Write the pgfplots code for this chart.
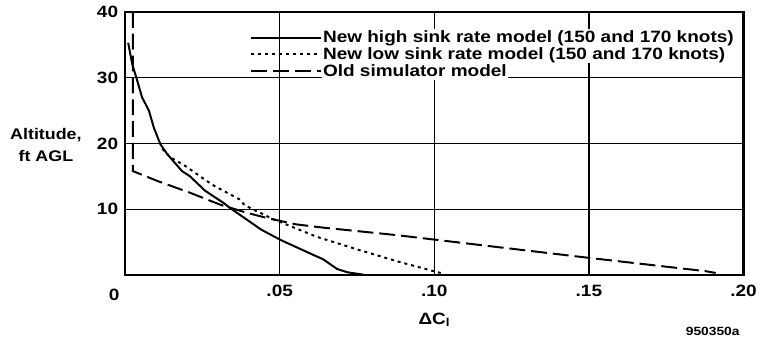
\documentclass[border=0pt]{standalone}
\usepackage{fontspec}
\setmainfont{Liberation Sans}[FakeStretch=1.16]
\usepackage{pgfplots}
\pgfplotsset{compat=1.18}
\begin{document}
\begin{tikzpicture}
\begin{axis}[name=ax, scale only axis, width=623pt, height=265pt,
  xmin=0, xmax=0.2, ymin=0, ymax=40,
  xtick={0.05,0.1,0.15,0.2}, xticklabels={.05,.10,.15,.20},
  ytick={10,20,30,40},
  grid=major, major grid style={black, line width=1.3pt},
  axis line style={line width=2.2pt},
  tick style={draw=none},
  font=\fontsize{16.5}{18}\selectfont\bfseries,
  /pgf/number format/assume math mode=true,
  xticklabel style={yshift=-7pt},
  yticklabel style={xshift=-3.5pt},
  xlabel={ΔC\textsubscript{l}},
  xlabel style={at={(axis description cs:0.5,-0.17)}, anchor=center},
  ylabel={Altitude,\\ft AGL},
  ylabel style={rotate=-90, align=center, at={(axis description cs:-0.128,0.494)}, anchor=center, font=\fontsize{15.5}{22}\selectfont\bfseries},
  legend cell align=left,
  legend style={at={(axis description cs:0.197,0.942)}, anchor=north west, draw=none, fill=none,
    row sep=0.6pt, nodes={fill=white, inner sep=1.5pt}},
  legend image code/.code={\draw[#1] (0pt,0pt) -- (70pt,0pt);},
]
\addplot[black, line width=2pt] coordinates {
(0.001,35.3) (0.0023,32.1) (0.0039,29.6) (0.0055,27.0) (0.0077,25.0) (0.0093,22.4)
(0.0114,19.9) (0.0136,18.4) (0.0184,15.8) (0.021,15.0) (0.0259,12.8) (0.0317,11.0)
(0.0339,10.2) (0.044,6.9) (0.0504,5.3) (0.0611,3.0) (0.064,2.4) (0.0686,0.9)
(0.072,0.4) (0.077,0.05)};
\addlegendentry{New high sink rate model (150 and 170 knots)}
\addplot[black, line width=2pt, dash pattern=on 3pt off 4pt] coordinates {
(0.012,19.2) (0.0146,17.9) (0.0194,16.6) (0.0264,14.3) (0.029,13.5) (0.037,11.5)
(0.0387,10.6) (0.0478,8.5) (0.0494,8.2) (0.062,5.8) (0.075,3.9) (0.0878,2.1)
(0.0996,0.6) (0.1033,0.15)};
\addlegendentry{New low sink rate model (150 and 170 knots)}
\addplot[black, line width=2pt, dash pattern=on 16pt off 6pt] coordinates {
(0.0025,40) (0.0025,15.8) (0.0104,14.3) (0.021,12.5) (0.0307,10.7) (0.039,9.5)
(0.0456,8.7) (0.0552,7.7) (0.064,7.2) (0.0878,6.06) (0.0996,5.4) (0.15,2.6)
(0.188,0.56) (0.191,0.3)};
\addlegendentry{Old simulator model}
\end{axis}
\node[font=\fontsize{16.5}{18}\selectfont\bfseries] at ([xshift=-11pt,yshift=-20pt]ax.south west) {0};
\node[font=\fontsize{12}{14}\selectfont\bfseries] at ([xshift=592pt,yshift=-57pt]ax.south west) {950350a};
\path ([xshift=-126pt,yshift=-62pt]ax.south west) rectangle ([xshift=11pt,yshift=12pt]ax.north east);
\end{tikzpicture}
\end{document}
